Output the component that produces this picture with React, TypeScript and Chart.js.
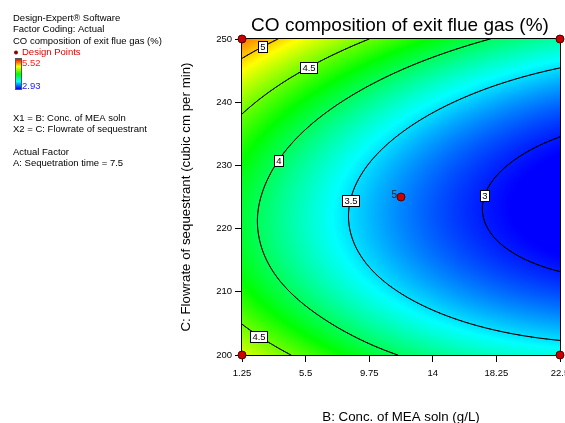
import React, { useEffect, useRef } from "react";
import { Chart, registerables } from "chart.js";

Chart.register(...registerables);

// ---- Data ----
const chartTitle = "CO composition of exit flue gas (%)";
const xAxisTitle = "B: Conc. of MEA soln (g/L)";
const yAxisTitle = "C: Flowrate of sequestrant (cubic cm per min)";

const xTicks = [1.25, 5.5, 9.75, 14, 18.25, 22.5];
const xTickLabels = ["1.25", "5.5", "9.75", "14", "18.25", "22.5"];
const yTicks = [200, 210, 220, 230, 240, 250];
const yTickLabels = ["200", "210", "220", "230", "240", "250"];

// Response values estimated on the tick grid (rows: y = 200..250, cols: x = 1.25..22.5)
const gridX = [1.25, 5.5, 9.75, 14, 18.25, 22.5];
const gridY = [200, 210, 220, 230, 240, 250];
const gridRow200 = [4.79, 4.42, 4.11, 3.887, 3.736, 3.649];
const gridRow210 = [4.28, 3.915, 3.614, 3.383, 3.215, 3.112];
const gridRow220 = [4.099, 3.723, 3.411, 3.163, 2.979, 2.859];
const gridRow230 = [4.213, 3.82, 3.492, 3.228, 3.028, 2.892];
const gridRow240 = [4.59, 4.195, 3.858, 3.578, 3.361, 3.209];
const gridRow250 = [5.22, 4.84, 4.5, 4.213, 3.98, 3.811];
const gridZ = [gridRow200, gridRow210, gridRow220, gridRow230, gridRow240, gridRow250];

const contourLevels = [3, 3.5, 4, 4.5, 5];
const contourLabelText = ["5", "4.5", "4", "3.5", "3", "4.5"];
const contourLabelLevel = [5, 4.5, 4, 3.5, 3, 4.5];
const contourLabelX = [2.56, 5.54, 3.53, 8.7, 17.72, 2.59];
const contourLabelY = [248.8, 245.5, 230.8, 224.5, 225.2, 203.0];

const designX = [1.25, 1.25, 22.5, 22.5, 11.875];
const designY = [200, 250, 200, 250, 225];
const designLabels = ["", "", "", "", "5"];

const colorMin = 2.93;
const colorMax = 5.52;

const legendLines = ["Design-Expert\u00ae Software", "Factor Coding: Actual", "CO composition of exit flue gas (%)"];
const legendFactorLines = ["X1 = B: Conc. of MEA soln", "X2 = C: Flowrate of sequestrant"];
const legendActualLines = ["Actual Factor", "A: Sequetration time = 7.5"];

const FONT = "Arial, 'Liberation Sans', Helvetica, sans-serif";

// ---- Surface helpers ----
function gridVal(i: number, j: number): number {
  const nx = gridX.length;
  const ny = gridY.length;
  if (j < 0) return 3 * gridVal(i, 0) - 3 * gridVal(i, 1) + gridVal(i, 2);
  if (j > ny - 1) return 3 * gridVal(i, ny - 1) - 3 * gridVal(i, ny - 2) + gridVal(i, ny - 3);
  const row = gridZ[j];
  if (i < 0) return 3 * row[0] - 3 * row[1] + row[2];
  if (i > nx - 1) return 3 * row[nx - 1] - 3 * row[nx - 2] + row[nx - 3];
  return row[i];
}
function cr(p0: number, p1: number, p2: number, p3: number, t: number) {
  return 0.5 * (2 * p1 + (-p0 + p2) * t + (2 * p0 - 5 * p1 + 4 * p2 - p3) * t * t + (-p0 + 3 * p1 - 3 * p2 + p3) * t * t * t);
}
function surface(x: number, y: number): number {
  const fx = (x - gridX[0]) / (gridX[1] - gridX[0]);
  const fy = (y - gridY[0]) / (gridY[1] - gridY[0]);
  let i = Math.floor(fx);
  i = Math.min(Math.max(i, 0), gridX.length - 2);
  let j = Math.floor(fy);
  j = Math.min(Math.max(j, 0), gridY.length - 2);
  const tx = fx - i;
  const ty = fy - j;
  const c: number[] = [];
  for (let dj = -1; dj <= 2; dj++) {
    c.push(cr(gridVal(i - 1, j + dj), gridVal(i, j + dj), gridVal(i + 1, j + dj), gridVal(i + 2, j + dj), tx));
  }
  return cr(c[0], c[1], c[2], c[3], ty);
}
const stops: [number, number, number, number][] = [
  [0, 0, 0, 255],
  [0.25, 0, 255, 255],
  [0.5, 0, 255, 0],
  [0.75, 255, 255, 0],
  [1, 255, 0, 0],
];
function colorFor(v: number): [number, number, number] {
  let t = (v - colorMin) / (colorMax - colorMin);
  t = Math.max(0, Math.min(1, t));
  for (let k = 0; k < stops.length - 1; k++) {
    const a = stops[k];
    const b = stops[k + 1];
    if (t <= b[0]) {
      const f = (t - a[0]) / (b[0] - a[0]);
      return [a[1] + (b[1] - a[1]) * f, a[2] + (b[2] - a[2]) * f, a[3] + (b[3] - a[3]) * f];
    }
  }
  return [255, 0, 0];
}

const surfacePlugin = {
  id: "surfacePlugin",
  beforeDatasetsDraw(chart: any) {
    const { ctx, chartArea, scales } = chart;
    const xs = scales.x;
    const ys = scales.y;
    const left = Math.round(chartArea.left);
    const top = Math.round(chartArea.top);
    const w = Math.round(chartArea.right) - left;
    const h = Math.round(chartArea.bottom) - top;
    const img = ctx.createImageData(w, h);
    for (let py = 0; py < h; py++) {
      const yv = ys.getValueForPixel(top + py + 0.5);
      for (let px = 0; px < w; px++) {
        const xv = xs.getValueForPixel(left + px + 0.5);
        const [r, g, b] = colorFor(surface(xv, yv));
        const o = (py * w + px) * 4;
        img.data[o] = r;
        img.data[o + 1] = g;
        img.data[o + 2] = b;
        img.data[o + 3] = 255;
      }
    }
    ctx.putImageData(img, left, top);

    // contours via marching squares
    const step = 2;
    const nx = Math.ceil(w / step) + 1;
    const ny = Math.ceil(h / step) + 1;
    const vals: number[] = new Array(nx * ny);
    const pxs: number[] = [];
    const pys: number[] = [];
    for (let a = 0; a < nx; a++) pxs.push(Math.min(left + a * step, left + w));
    for (let b = 0; b < ny; b++) pys.push(Math.min(top + b * step, top + h));
    for (let b = 0; b < ny; b++) {
      const yv = ys.getValueForPixel(pys[b]);
      for (let a = 0; a < nx; a++) {
        vals[b * nx + a] = surface(xs.getValueForPixel(pxs[a]), yv);
      }
    }
    ctx.save();
    ctx.beginPath();
    ctx.rect(left, top, w, h);
    ctx.clip();
    ctx.strokeStyle = "#000";
    ctx.lineWidth = 1;
    ctx.lineCap = "round";
    for (const lvl of contourLevels) {
      ctx.beginPath();
      for (let b = 0; b < ny - 1; b++) {
        for (let a = 0; a < nx - 1; a++) {
          const v0 = vals[b * nx + a];
          const v1 = vals[b * nx + a + 1];
          const v2 = vals[(b + 1) * nx + a + 1];
          const v3 = vals[(b + 1) * nx + a];
          const x0 = pxs[a], x1 = pxs[a + 1], y0 = pys[b], y1 = pys[b + 1];
          const pts: [number, number][] = [];
          const edge = (va: number, vb: number, xa: number, ya: number, xb: number, yb: number) => {
            if ((va - lvl) * (vb - lvl) < 0) {
              const f = (lvl - va) / (vb - va);
              pts.push([xa + (xb - xa) * f, ya + (yb - ya) * f]);
            }
          };
          edge(v0, v1, x0, y0, x1, y0);
          edge(v1, v2, x1, y0, x1, y1);
          edge(v2, v3, x1, y1, x0, y1);
          edge(v3, v0, x0, y1, x0, y0);
          for (let k = 0; k + 1 < pts.length; k += 2) {
            ctx.moveTo(pts[k][0], pts[k][1]);
            ctx.lineTo(pts[k + 1][0], pts[k + 1][1]);
          }
        }
      }
      ctx.stroke();
    }
    ctx.restore();

    // contour labels (snapped horizontally onto their contour)
    ctx.save();
    ctx.font = `9.5px ${FONT}`;
    ctx.textAlign = "center";
    ctx.textBaseline = "middle";
    for (let k = 0; k < contourLabelText.length; k++) {
      const lvl = contourLabelLevel[k];
      const gx = contourLabelX[k];
      const gy = contourLabelY[k];
      let best = gx;
      let bestD = Infinity;
      const d = 0.02;
      for (let xx = gx - 4; xx < gx + 4; xx += d) {
        const fa = surface(xx, gy) - lvl;
        const fb = surface(xx + d, gy) - lvl;
        if (fa * fb <= 0) {
          const xc = xx + d * (fa / (fa - fb || 1));
          if (Math.abs(xc - gx) < bestD) {
            bestD = Math.abs(xc - gx);
            best = xc;
          }
        }
      }
      const cx = xs.getPixelForValue(best);
      const cy = ys.getPixelForValue(gy);
      const tw = ctx.measureText(contourLabelText[k]).width;
      const bw = Math.round(tw + 4);
      const bh = 11;
      const bx = Math.round(cx - bw / 2) + 0.5;
      const by = Math.round(cy - bh / 2) + 0.5;
      ctx.fillStyle = "#fff";
      ctx.fillRect(bx, by, bw, bh);
      ctx.strokeStyle = "#000";
      ctx.lineWidth = 1;
      ctx.strokeRect(bx, by, bw, bh);
      ctx.fillStyle = "#000";
      ctx.fillText(contourLabelText[k], bx + bw / 2, by + bh / 2 + 0.5);
    }
    ctx.restore();

    // frame
    ctx.save();
    ctx.strokeStyle = "#000";
    ctx.lineWidth = 1;
    ctx.strokeRect(left - 0.5, top - 0.5, w + 1, h + 1);
    ctx.restore();
  },
  afterDatasetsDraw(chart: any) {
    const { ctx, scales } = chart;
    ctx.save();
    ctx.font = `10px ${FONT}`;
    ctx.fillStyle = "#222";
    ctx.textAlign = "right";
    ctx.textBaseline = "middle";
    for (let k = 0; k < designLabels.length; k++) {
      if (!designLabels[k]) continue;
      const px = scales.x.getPixelForValue(designX[k]);
      const py = scales.y.getPixelForValue(designY[k]);
      ctx.fillText(designLabels[k], px - 4, py - 1.5);
    }
    ctx.restore();
  },
  afterDraw(chart: any) {
    const { ctx, chartArea } = chart;
    ctx.save();
    // title
    ctx.fillStyle = "#000";
    ctx.font = `19px ${FONT}`;
    ctx.textAlign = "center";
    ctx.textBaseline = "alphabetic";
    ctx.fillText(chartTitle, 400, 31);
    // x axis title
    ctx.font = `13.3px ${FONT}`;
    ctx.fillText(xAxisTitle, (chartArea.left + chartArea.right) / 2, 421);
    // y axis title
    ctx.save();
    ctx.translate(190, (chartArea.top + chartArea.bottom) / 2);
    ctx.rotate(-Math.PI / 2);
    ctx.fillText(yAxisTitle, 0, 0);
    ctx.restore();

    // legend panel
    ctx.font = `9.5px ${FONT}`;
    ctx.textAlign = "left";
    ctx.textBaseline = "middle";
    ctx.fillStyle = "#000";
    legendLines.forEach((t, i) => ctx.fillText(t, 13, 18.5 + i * 11.3));
    ctx.beginPath();
    ctx.arc(16, 52.5, 2, 0, Math.PI * 2);
    ctx.fillStyle = "#8b0000";
    ctx.fill();
    ctx.fillStyle = "#e00000";
    ctx.fillText("Design Points", 22, 52.5);
    // colour bar
    const grad = ctx.createLinearGradient(0, 89, 0, 59);
    for (const s of stops) grad.addColorStop(s[0], `rgb(${s[1]},${s[2]},${s[3]})`);
    ctx.fillStyle = grad;
    ctx.fillRect(16, 59, 5, 30);
    ctx.strokeStyle = "#555";
    ctx.lineWidth = 1;
    ctx.strokeRect(15.5, 58.5, 6, 31);
    ctx.fillStyle = "#ff2020";
    ctx.fillText(String(colorMax), 22, 63.5);
    ctx.fillStyle = "#2020ff";
    ctx.fillText(String(colorMin), 22, 86);
    ctx.fillStyle = "#000";
    legendFactorLines.forEach((t, i) => ctx.fillText(t, 13, 118.5 + i * 11));
    legendActualLines.forEach((t, i) => ctx.fillText(t, 13, 152.5 + i * 11.3));
    ctx.restore();
  },
};

export default function App() {
  const ref = useRef<HTMLCanvasElement>(null);
  useEffect(() => {
    if (!ref.current) return;
    const chart = new Chart(ref.current, {
      type: "scatter",
      data: {
        datasets: [
          {
            data: designX.map((x, i) => ({ x, y: designY[i] })),
            pointRadius: 4,
            pointHoverRadius: 4,
            backgroundColor: "#cc0000",
            borderColor: "#500000",
            borderWidth: 1,
            clip: false as any,
          },
        ],
      },
      options: {
        animation: false,
        responsive: true,
        maintainAspectRatio: false,
        events: [],
        layout: { padding: { left: 0, top: 39, right: 5, bottom: 0 } },
        plugins: { legend: { display: false }, tooltip: { enabled: false }, title: { display: false } },
        scales: {
          x: {
            type: "linear",
            min: xTicks[0],
            max: xTicks[xTicks.length - 1],
            afterBuildTicks: (s: any) => {
              s.ticks = xTicks.map((v) => ({ value: v }));
            },
            afterFit: (s: any) => {
              s.height = 68;
              s.paddingLeft = 0;
              s.paddingRight = 0;
            },
            ticks: {
              autoSkip: false,
              maxRotation: 0,
              color: "#000",
              font: { family: FONT, size: 9.5 },
              padding: 6,
              callback: (_v: any, i: number) => xTickLabels[i],
            },
            grid: { drawOnChartArea: false, drawTicks: true, tickLength: 7, color: "#000" },
            border: { display: true, color: "#000" },
          },
          y: {
            type: "linear",
            min: yTicks[0],
            max: yTicks[yTicks.length - 1],
            afterBuildTicks: (s: any) => {
              s.ticks = yTicks.map((v) => ({ value: v }));
            },
            afterFit: (s: any) => {
              s.width = 242;
              s.paddingTop = 0;
              s.paddingBottom = 0;
            },
            ticks: {
              autoSkip: false,
              color: "#000",
              font: { family: FONT, size: 9.5 },
              padding: 3,
              callback: (_v: any, i: number) => yTickLabels[i],
            },
            grid: { drawOnChartArea: false, drawTicks: true, tickLength: 7, color: "#000" },
            border: { display: true, color: "#000" },
          },
        },
      },
      plugins: [surfacePlugin],
    });
    return () => chart.destroy();
  }, []);
  return (
    <div style={{ position: "absolute", left: 0, top: 0, width: 565, height: 423, background: "#fff" }}>
      <canvas ref={ref} />
    </div>
  );
}
